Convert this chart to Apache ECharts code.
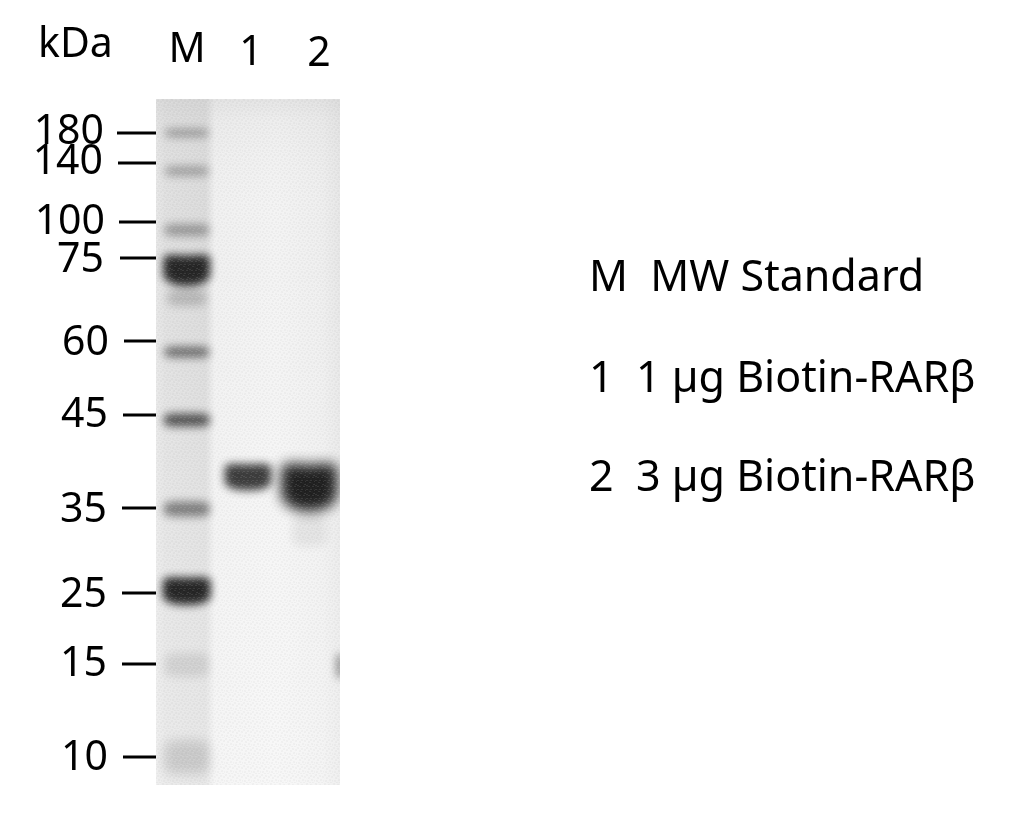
<!DOCTYPE html>
<html><head><meta charset="utf-8">
<style>html,body{margin:0;padding:0;background:#fff}#c{width:1031px;height:815px}</style>
<script src="https://cdn.jsdelivr.net/npm/echarts@6/dist/echarts.min.js"></script>
</head><body><div id="c"></div>
<script>
// Lanes
const lanes = ['M', '1', '2'];
const laneHeaders = ['M', '1', '2'];
// Molecular weight markers: kDa and migration distance (from top of gel)
const markerKDa = ['180', '140', '100', '75', '60', '45', '35', '25', '15', '10'];
const markerMigration = [34, 64, 123, 159, 242, 316, 409, 494, 565, 658];
// Bands: lane, migration, thickness, density (0-1), smile, relative width, drift across the lane
const bandLane =      [0,   0,   0,   0,   0,   0,   0,   0,   0,   0,   0,   1,   2,   2,   2];
const bandMigration = [34,  72,  131, 168, 199, 253, 321, 410, 490, 566, 658, 376, 383, 432, 567];
const bandThickness = [8,   10,  12,  28,  16,  11,  13,  15,  26,  24,  34,  25,  43,  30,  24];
const bandDensity =   [.36, .32, .36, .94, .20, .58, .72, .50, .94, .10, .14, .84, .97, .07, .55];
const bandSmile =     [0,   0,   0,   5,   0,   0,   0,   0,   3,   0,   0,   3,   8,   0,   0];
const bandWidth =     [.70, .70, .72, .76, .62, .72, .74, .74, .78, .72, .74, .76, .92, .56, .10];
const bandDrift =     [0,   0,   0,   0,   0,   0,   0,   0,   0,   0,   0,   0,   0,   0,   .5];

const legendLines = ['M  MW Standard', '1  1 µg Biotin-RARβ', '2  3 µg Biotin-RARβ'];
const FONT = '"Noto Sans", sans-serif';

const chart = echarts.init(document.getElementById('c'), null, {renderer: 'canvas'});
const gel = {x: 156, y: 99, w: 184, h: 686};
const tickLen = [39, 38, 37, 36, 32, 33, 34, 34, 34, 33];
const labelShift = [-1, -1, 0, 2, 2, 0, 2, 2, 0, 1];
const labelRight = [104, 103, 105, 104, 109, 108, 107, 107, 107, 108];

// faint mottled film grain, repeated over the gel
function grainTile() {
  const s = 9, cv = document.createElement('canvas');
  cv.width = cv.height = s;
  const g = cv.getContext('2d');
  g.fillStyle = 'rgba(120,120,120,.05)';
  [[0,0],[4,1],[7,2],[2,3],[5,5],[1,6],[8,6],[3,8],[6,8]].forEach(d => g.fillRect(d[0], d[1], 2, 2));
  g.fillStyle = 'rgba(255,255,255,.10)';
  [[2,0],[6,0],[0,3],[4,3],[8,4],[3,5],[7,7],[0,8]].forEach(d => g.fillRect(d[0], d[1], 2, 1));
  return cv;
}
const tile = grainTile();

function renderGel(params, api) {
  const c = params.coordSys;
  const r = {x: c.x, y: c.y, width: c.width, height: c.height};
  return {type: 'group', children: [
    {type: 'rect', shape: r,
     style: {fill: {type: 'linear', x: 0, y: 0, x2: 1, y2: 0, colorStops: [
       {offset: 0, color: '#e6e6e6'}, {offset: .05, color: '#dfdfdf'}, {offset: .27, color: '#dadada'},
       {offset: .32, color: '#f0f0f0'}, {offset: .65, color: '#f3f3f3'}, {offset: .9, color: '#eeeeee'}, {offset: 1, color: '#e6e6e6'}]}}},
    {type: 'rect', shape: r,
     style: {fill: {type: 'linear', x: 0, y: 0, x2: 0, y2: 1, colorStops: [
       {offset: 0, color: 'rgba(200,200,200,.35)'}, {offset: .03, color: 'rgba(200,200,200,.15)'},
       {offset: .2, color: 'rgba(255,255,255,0)'}, {offset: .7, color: 'rgba(255,255,255,.25)'},
       {offset: 1, color: 'rgba(255,255,255,.35)'}]}}}
  ]};
}

function renderGrain(params) {
  const c = params.coordSys;
  return {type: 'rect', shape: {x: c.x, y: c.y, width: c.width, height: c.height},
    style: {fill: {image: tile, repeat: 'repeat'}}};
}

function renderBand(params, api) {
  const p = api.coord([api.value(0), api.value(1)]);
  const bw = api.size([1, 0])[0];
  const cx = p[0] + api.value(6) * bw;
  const hw = bw * api.value(5) / 2;
  const hh = api.value(2) / 2;
  const smile = api.value(4);
  const a = api.value(3);
  const OFF = 3000;
  const top = [], bot = [];
  for (let i = -4; i <= 4; i++) {
    const t = i / 4;
    const k = 1 - t * t;
    const edge = Math.pow(Math.abs(t), 6);
    top.push([cx + hw * t - OFF, p[1] - hh + hh * .3 * edge + smile * .5 * k]);
    bot.unshift([cx + hw * t - OFF, p[1] + hh - hh * .3 * edge + smile * k]);
  }
  return {type: 'polygon', shape: {points: top.concat(bot)},
    style: {fill: '#000', shadowBlur: Math.max(9, hh * .6), shadowColor: 'rgba(24,24,24,' + a + ')', shadowOffsetX: OFF}};
}

function renderTick(params, api) {
  const i = params.dataIndex;
  const p = api.coord([0, api.value(0)]);
  const x0 = params.coordSys.x;
  return {type: 'group', children: [
    {type: 'line', shape: {x1: x0 - tickLen[i], y1: p[1], x2: x0, y2: p[1]}, style: {stroke: '#000', lineWidth: 3}},
    {type: 'text', x: labelRight[i], y: p[1] + labelShift[i],
     style: {text: markerKDa[i], font: '41px ' + FONT, fill: '#000', align: 'right', verticalAlign: 'middle'}}
  ]};
}

const head = (text, x, y, size, align) => ({type: 'text', x, y,
  style: {text, font: size + 'px ' + FONT, fill: '#000', align: align || 'left', verticalAlign: 'middle'}});

chart.setOption({
  animation: false,
  backgroundColor: '#fff',
  grid: {left: gel.x, top: gel.y, width: gel.w, height: gel.h},
  xAxis: {type: 'category', data: lanes, show: false},
  yAxis: {type: 'value', inverse: true, min: 0, max: 686, show: false},
  graphic: [
    head('kDa', 38, 45, 41),
    head(laneHeaders[0], 187, 50, 41, 'center'),
    head(laneHeaders[1], 251, 53, 41, 'center'),
    head(laneHeaders[2], 319, 54, 41, 'center'),
    head(legendLines[0], 589, 279, 43),
    head(legendLines[1], 589, 380, 43),
    head(legendLines[2], 589, 479, 43)
  ],
  series: [
    {type: 'custom', name: 'gel', z: 1, silent: true, renderItem: renderGel, data: [[0]], clip: false},
    {type: 'custom', name: 'bands', z: 2, silent: true, renderItem: renderBand, clip: true,
     data: bandLane.map((l, i) => [l, bandMigration[i], bandThickness[i], bandDensity[i], bandSmile[i], bandWidth[i], bandDrift[i]]),
     encode: {y: 1}},
    {type: 'custom', name: 'grain', z: 3, silent: true, renderItem: renderGrain, data: [[0]], clip: false},
    {type: 'custom', name: 'markers', z: 4, silent: true, renderItem: renderTick, clip: false,
     data: markerMigration.map(m => [m]), encode: {y: 0}}
  ]
});
</script></body></html>
